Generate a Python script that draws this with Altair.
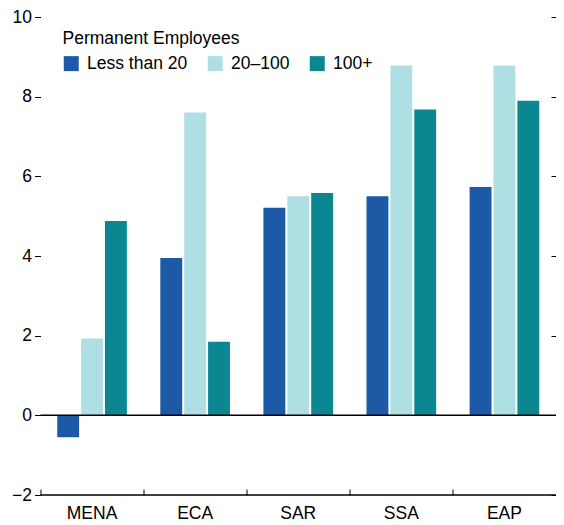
import altair as alt
import pandas as pd

regions = ["MENA", "ECA", "SAR", "SSA", "EAP"]
groups = ["Less than 20", "20–100", "100+"]
less_than_20 = [-0.55, 3.95, 5.21, 5.50, 5.73]
from_20_to_100 = [1.93, 7.60, 5.50, 8.78, 8.78]
over_100 = [4.88, 1.85, 5.58, 7.68, 7.90]
colors = ["#1c5aa7", "#aee0e3", "#0b8792"]
y_ticks = [-2, 0, 2, 4, 6, 8, 10]

rows = []
for i, r in enumerate(regions):
    for g, vals in zip(groups, [less_than_20, from_20_to_100, over_100]):
        rows.append({"region": r, "group": g, "value": vals[i]})
df = pd.DataFrame(rows)

FONT = "Liberation Sans"
FS = 17.5

yscale = alt.Scale(domain=[-2, 10], nice=False, zero=False)

bars = alt.Chart(df).mark_bar().encode(
    x=alt.X("region:N", sort=regions,
            scale=alt.Scale(paddingInner=0, paddingOuter=0),
            axis=alt.Axis(title=None, labelAngle=0, domain=False, ticks=True,
                          tickSize=6, offset=-6, bandPosition=0,
                          labelPadding=9, labelFontSize=FS, labelFont=FONT,
                          labelColor="black", tickColor="black")),
    xOffset=alt.XOffset("group:N", sort=groups,
                        scale=alt.Scale(paddingInner=0.083, paddingOuter=0.7)),
    y=alt.Y("value:Q", scale=yscale,
            axis=alt.Axis(title=None, orient="left", values=y_ticks, domain=False,
                          grid=False, tickSize=6, labelPadding=3, labelFontSize=FS,
                          labelFont=FONT, labelColor="black", tickColor="black")),
    color=alt.Color("group:N", sort=groups,
                    scale=alt.Scale(domain=groups, range=colors),
                    legend=alt.Legend(title="Permanent Employees", orient="none",
                                      legendX=22, legendY=13, direction="horizontal",
                                      titleFontSize=FS, titleFont=FONT,
                                      titleFontWeight="normal", titleColor="black",
                                      titlePadding=7, labelFontSize=FS, labelFont=FONT,
                                      labelColor="black", symbolType="square",
                                      symbolSize=225, symbolStrokeWidth=0,
                                      columnPadding=19, labelOffset=7, padding=0)),
)

zero_rule = alt.Chart(pd.DataFrame({"v": [0]})).mark_rule(color="black", strokeWidth=1.5).encode(
    y=alt.Y("v:Q", scale=yscale,
            axis=alt.Axis(title=None, orient="right", values=y_ticks, domain=False,
                          grid=False, labels=False, tickSize=5, offset=-5,
                          tickColor="black"))
)

base_rule = alt.Chart(pd.DataFrame({"v": [-2]})).mark_rule(color="black", strokeWidth=1.5).encode(
    y=alt.Y("v:Q", scale=yscale, axis=None)
)

chart = alt.layer(bars, zero_rule, base_rule).resolve_axis(y="independent").properties(
    width=515.5, height=478,
    autosize=alt.AutoSizeParams(type="none"),
    padding={"left": 32.5, "top": 9, "right": 0, "bottom": 30},
).configure_view(stroke=None)

chart.save("out.html", embed_options={"renderer": "svg", "actions": False})
